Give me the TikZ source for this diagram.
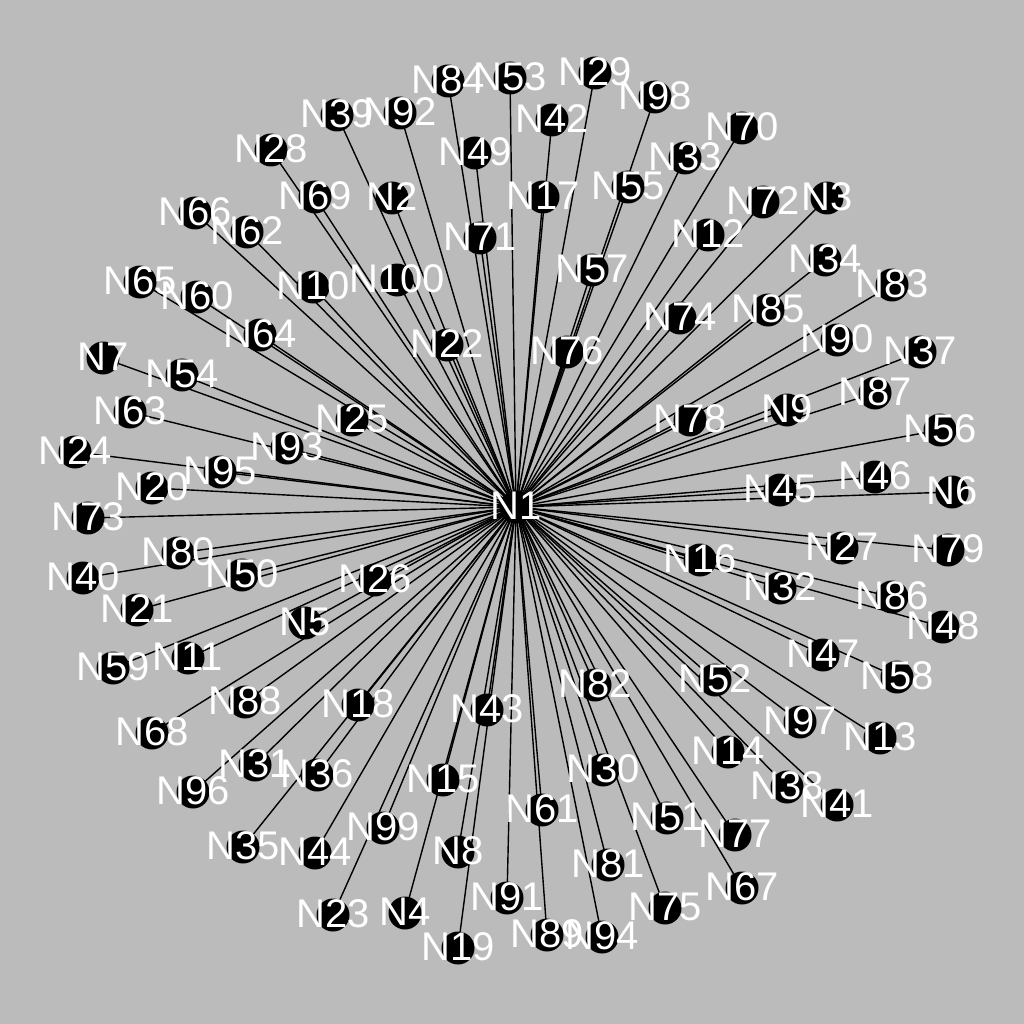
\documentclass[tikz,border=0pt]{standalone}
\usepackage{fontspec}
\setmainfont{Liberation Sans}
\definecolor{bg}{RGB}{187,187,187}
\pgfdeclarelayer{back}
\pgfdeclarelayer{edges}
\pgfsetlayers{back,edges,main}
\begin{document}
\begin{tikzpicture}[x=1pt,y=-1pt,
  dot/.style={circle,fill=black,minimum size=33pt,inner sep=0pt},
  lbl/.style={text=white,font=\fontsize{40}{40}\selectfont,inner sep=0pt,anchor=center,yshift=1.5pt},
  edgeline/.style={black,line width=1.4pt}]
\begin{pgfonlayer}{back}
\fill[bg] (0,0) rectangle (1024,1024);
\end{pgfonlayer}
\useasboundingbox (0,0) rectangle (1024,1024);
\def\nodelist{1/516/507,
84/448/81, 53/510/78, 39/337/115, 92/400/113, 28/271/150, 49/475/153, 69/315/197, 2/392/198,
66/195/213, 62/247/232, 71/480/238, 65/140/282, 60/197/297, 10/313/287, 100/397/280, 64/260/335,
22/447/345, 7/103/358, 54/182/375, 25/352/420, 63/130/412, 93/287/448, 24/75/452, 95/220/472,
20/152/488, 73/88/518,
29/595/73, 98/655/97, 42/552/120, 70/742/128, 33/685/158, 17/543/197, 55/628/187, 72/763/202,
3/827/198, 12/708/235, 34/825/260, 57/592/270, 83/892/285, 85/768/310, 74/680/318, 90/837/340,
37/920/352, 76/567/352, 87/875/393, 9/787/410, 78/690/420, 56/940/430, 46/875/477, 45/780/490,
6/952/492,
80/178/553, 40/83/578, 50/242/575, 26/375/580, 21/137/610, 5/305/623, 59/113/668, 11/188/658,
88/245/702, 18/358/705, 43/487/710, 68/152/733, 31/255/765, 36/317/775, 96/193/792, 15/443/780,
99/383/828, 35/243/847, 44/315/853, 8/458/852, 23/333/915, 4/405/913, 19/458/948, 91/507/898,
27/842/548, 79/948/550, 16/700/560, 32/780/588, 86/892/597, 48/943/627, 47/823/655, 58/897/677,
82/595/685, 52/715/680, 97/800/722, 13/880/738, 14/728/752, 30/603/770, 38/787/787, 41/837/805,
61/542/810, 51/667/818, 77/735/835, 81/608/865, 67/742/888, 75/665/908, 89/547/935, 94/602/937}
\foreach \n/\x/\y in \nodelist {
  \node[dot] (N\n) at (\x,\y) {};
}
\begin{pgfonlayer}{edges}
\foreach \n/\x/\y in \nodelist {
  \draw[edgeline] (N1.center) -- (N\n.center);
}
\end{pgfonlayer}
\foreach \n/\x/\y in \nodelist {
  \node[lbl] (L\n) at (N\n.center) {N\n};
}
\end{tikzpicture}
\end{document}
